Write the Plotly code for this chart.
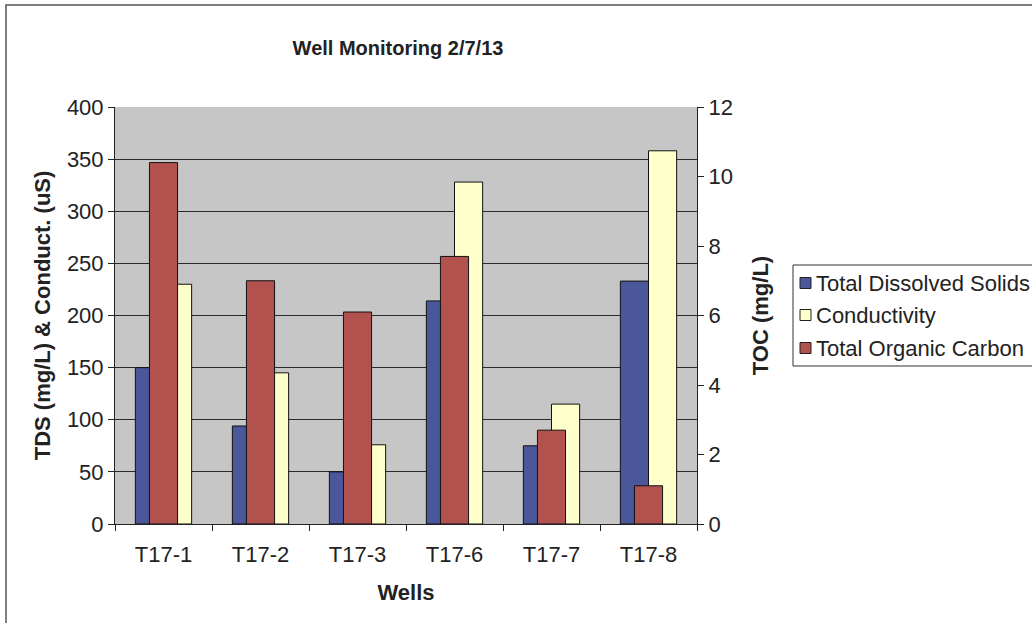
import plotly.graph_objects as go

wells = ["T17-1", "T17-2", "T17-3", "T17-6", "T17-7", "T17-8"]
tds = [150, 94, 50, 214, 75, 233]
conductivity = [230, 145, 76, 328, 115, 358]
toc = [10.4, 7.0, 6.1, 7.7, 2.7, 1.1]

series_names = ["Total Dissolved Solids", "Conductivity", "Total Organic Carbon"]
left_ticks = [0, 50, 100, 150, 200, 250, 300, 350, 400]
right_ticks = [0, 2, 4, 6, 8, 10, 12]

BLUE = "#4A579A"
YELLOW = "#FFFFCC"
RED = "#B2524F"
colors = [BLUE, YELLOW, RED]
FONT = "Liberation Sans, Arial, sans-serif"
W = 0.29

# plot area in pixels
PL, PR, PT, PB = 115, 697, 107, 524
def px_x(x):
    return (x - PL) / (PR - PL)
def px_y(y):
    return (PB - y) / (PB - PT)

fig = go.Figure()
fig.add_trace(go.Bar(x=wells, y=tds, name=series_names[0], marker=dict(color=BLUE, line=dict(color="#111", width=1)),
                     width=W, offset=-W, yaxis="y", showlegend=False))
fig.add_trace(go.Bar(x=wells, y=conductivity, name=series_names[1], marker=dict(color=YELLOW, line=dict(color="#111", width=1)),
                     width=W, offset=0, yaxis="y", showlegend=False))
fig.add_trace(go.Bar(x=wells, y=toc, name=series_names[2], marker=dict(color=RED, line=dict(color="#111", width=1)),
                     width=W, offset=-W / 2, yaxis="y2", showlegend=False))

fig.update_layout(
    width=1032, height=623,
    margin=dict(l=PL, r=1032 - PR, t=PT, b=623 - PB, autoexpand=False),
    paper_bgcolor="white",
    plot_bgcolor="#C6C6C6",
    barmode="overlay",
    showlegend=False,
    font=dict(family=FONT, size=22, color="#222"),
    title=dict(text="<b>Well Monitoring 2/7/13</b>", x=398 / 1032, xanchor="center", y=1 - 48 / 623, yanchor="middle",
               font=dict(size=20, family=FONT, color="#222")),
    xaxis=dict(type="category", showline=True, linecolor="#222", linewidth=1, ticks="outside", ticklen=6,
               tickcolor="#222", tickson="boundaries", showgrid=False, ticklabelstandoff=11,
               title=dict(text="<b>Wells</b>", font=dict(size=22), standoff=18),
               tickfont=dict(size=22)),
    yaxis=dict(range=[0, 400], tickvals=left_ticks, showline=True, linecolor="#222", linewidth=1, ticks="outside",
               ticklen=6, tickcolor="#222", showgrid=True, gridcolor="#2a2a2a", gridwidth=1, zeroline=False,
               title=dict(text="<b>TDS (mg/L) & Conduct. (uS)</b>", font=dict(size=22), standoff=10),
               tickfont=dict(size=22)),
    yaxis2=dict(range=[0, 12], tickvals=right_ticks, overlaying="y", side="right", showline=True, linecolor="#222",
                linewidth=1, ticks="outside", ticklen=6, tickcolor="#222", showgrid=False, zeroline=False,
                title=dict(text="<b>TOC (mg/L)</b>", font=dict(size=22), standoff=20),
                tickfont=dict(size=22)),
)

# outer chart frame
fig.add_shape(type="rect", xref="paper", yref="paper",
              x0=px_x(6), x1=px_x(1045), y0=px_y(630), y1=px_y(5),
              line=dict(color="#555", width=1.5), layer="below")

# legend box (drawn to match the Excel legend)
fig.add_shape(type="rect", xref="paper", yref="paper",
              x0=px_x(793), x1=px_x(1045), y0=px_y(366), y1=px_y(265),
              line=dict(color="#333", width=1), fillcolor="white", layer="above")
legend_rows = [283, 315, 348]
for name, col, yc in zip(series_names, colors, legend_rows):
    fig.add_shape(type="rect", xref="paper", yref="paper",
                  x0=px_x(800), x1=px_x(811), y0=px_y(yc + 5.5), y1=px_y(yc - 5.5),
                  line=dict(color="#222", width=1), fillcolor=col, layer="above")
    fig.add_annotation(text=name, xref="paper", yref="paper", x=px_x(814), y=px_y(yc),
                       xanchor="left", yanchor="middle", showarrow=False,
                       font=dict(size=22, color="#222", family=FONT))

fig.write_html("out.html")
